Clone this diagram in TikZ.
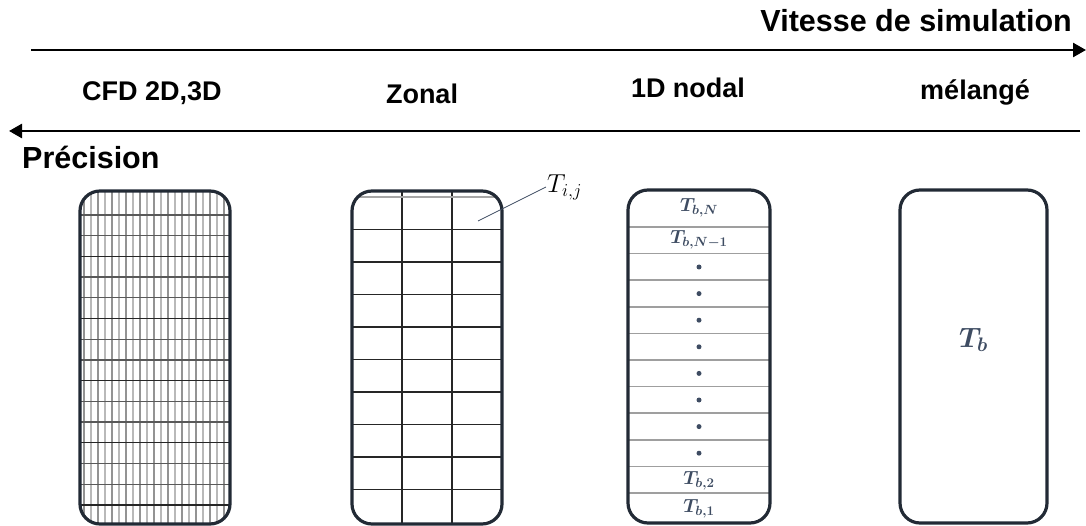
\RequirePackage{fix-cm}
\documentclass[tikz,border=0pt]{standalone}
\usepackage{fontspec}
\setmainfont{Liberation Sans}
\usepackage{amsmath,bm}
\usepackage{xcolor}
\usetikzlibrary{positioning, arrows.meta}
\definecolor{boxline}{HTML}{222A35}
\definecolor{slate}{HTML}{3E4C62}

\begin{document}
\begin{tikzpicture}[
        x=1pt, y=-1pt,
        title/.style={font=\fontsize{30.5}{33}\selectfont\bfseries, inner sep=0pt},
        model/.style={font=\fontsize{27}{30}\selectfont\bfseries, inner sep=0pt, anchor=base},
        box/.style={draw=boxline, line width=3.2pt, rounded corners=20pt, outer sep=0pt, minimum height=333pt, minimum width=#1},
        box/.default=150pt,
        arr/.style={-{Triangle[length=13pt, width=14pt]}, line width=2.6pt},
        temp/.style={text=slate, inner sep=0pt, font=\fontsize{#1}{#1}\selectfont},
        temp/.default=19,
        dot/.style={circle, fill=slate, inner sep=0pt, minimum size=5pt},
        leader/.style={draw=slate, line width=0.8pt},
    ]
    \useasboundingbox (0,0) rectangle (1086,526);

    % Axes
    \coordinate (vstart) at (31,50);
    \coordinate (vend) at (1086,50);
    \coordinate (pstart) at (1080,131);
    \coordinate (pend) at (9,131);
    \draw[arr] (vstart) -- (vend);
    \draw[arr] (pstart) -- (pend);
    \node[title, anchor=base east] (vitesse) at (1072,32) {Vitesse de simulation};
    \node[title, anchor=base west] (precision) at (22,169) {Précision};

    % Model names
    \node[model] (lcfd) at (152,101) {CFD 2D,3D};
    \node[model] (lzonal) at (422,104) {Zonal};
    \node[model] (lnodal) at (688,98) {1D nodal};
    \node[model] (lmix) at (975,100) {mélangé};

    % CFD mesh
    \begin{scope}
        \clip[rounded corners=20pt] (80,191) rectangle (230,524);
        \foreach \i in {0,...,20} {
            \ifodd\i \def\gc{gray!55}\else\def\gc{gray!85}\fi
            \draw[\gc, line width=1.1pt] ({84+7*\i},185) -- ({84+7*\i},530);
        }
        \foreach \k in {0,...,14}
            \draw[black!65, line width=1.2pt] (75,{215+20.7*\k}) -- (235,{215+20.7*\k});
        \foreach \k in {2,5,8,11,14}
            \draw[black!85, line width=1.4pt] (75,{215+20.7*\k}) -- (235,{215+20.7*\k});
    \end{scope}

    % Zonal cells
    \begin{scope}
        \clip[rounded corners=20pt] (352,191) rectangle (502,524);
        \foreach \xc in {402,452}
            \draw[black!85, line width=1.2pt] (\xc,185) -- (\xc,530);
        \draw[gray!70, line width=1.2pt] (345,197) -- (510,197);
        \foreach \k in {1,...,9}
            \draw[black!85, line width=1.3pt] (345,{197+32.5*\k}) -- (510,{197+32.5*\k});
    \end{scope}

    % Nodal layers
    \begin{scope}
        \clip[rounded corners=20pt] (628,190) rectangle (770,523);
        \foreach \k in {0,...,10}
            \draw[gray!75, line width=1.6pt] (620,{227+26.6*\k}) -- (780,{227+26.6*\k});
    \end{scope}

    % Boxes
    \node[box] (cfd) at (155,357.5) {};
    \node[box] (zonal) at (427,357.5) {};
    \node[box=142pt] (nodal) at (699,356.5) {};
    \node[box=147pt] (mix) at (973.5,356.5) {};

    % Labels
    \coordinate (zcell) at (478,221);
    \node[anchor=west, inner sep=1pt, font=\fontsize{26}{26}\selectfont] (tij) at (546,187) {$T_{i,j}$};
    \draw[leader] (zcell) -- (tij.west);

    \node[temp] (tbn) at (699,208) {$\bm{T_{b,N}}$};
    \node[temp] (tbnm) at (699,240) {$\bm{T_{b,N-1}}$};
    \foreach \k in {0,...,7}
        \node[dot] (d\k) at (699,{267+26.6*\k}) {};
    \node[temp] (tbtwo) at (699,481) {$\bm{T_{b,2}}$};
    \node[temp] (tbone) at (699,509) {$\bm{T_{b,1}}$};

    \node[temp=28] (tb) at (973.5,340) {$\bm{T_b}$};
\end{tikzpicture}
\end{document}
